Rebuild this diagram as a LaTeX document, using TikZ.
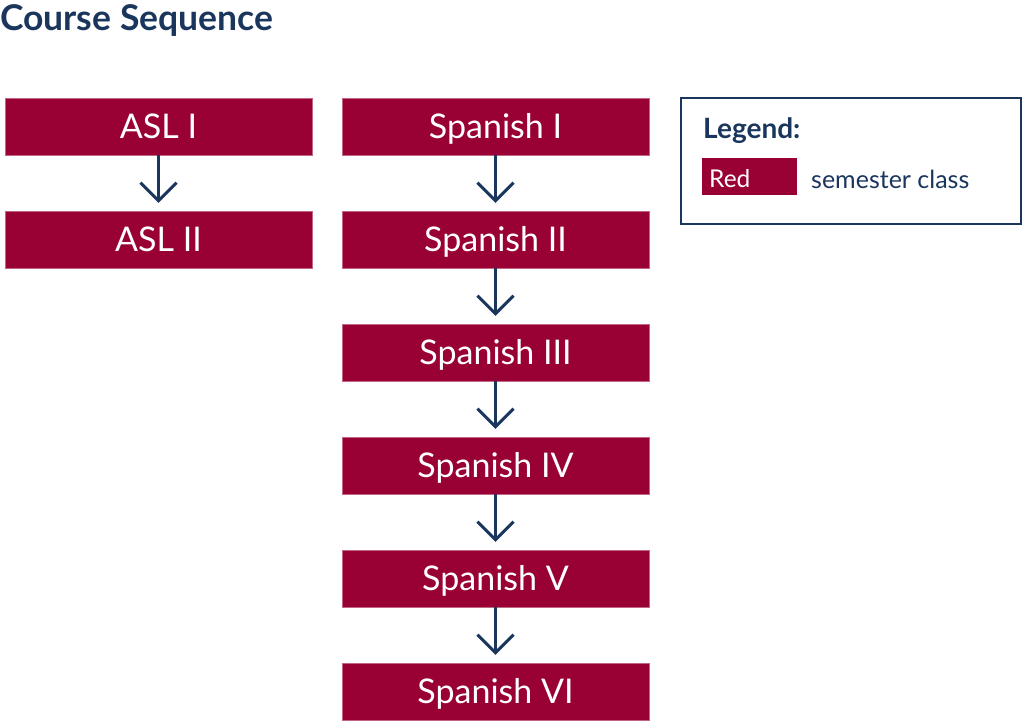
\documentclass[tikz,border=0pt]{standalone}
\usepackage{fontspec}
\setmainfont{Lato}
\usetikzlibrary{arrows.meta}
\definecolor{crs}{RGB}{153,0,51}
\definecolor{navy}{RGB}{27,54,93}
\tikzset{
  course/.style={rectangle, fill=crs, draw=crs!60, line width=0.4pt, minimum width=307pt, minimum height=57pt, inner sep=0pt, text=white, font=\fontsize{34}{34}\selectfont, text height=24pt, text depth=0pt},
  arr/.style={draw=navy, line width=3pt, -{Straight Barb[length=18pt,width=36pt,line width=3pt]}, shorten >=8pt},
}
\begin{document}
\begin{tikzpicture}[x=1pt,y=-1pt]
\useasboundingbox (0,0) rectangle (1024,720);
\node[anchor=base west, text=navy, font=\bfseries\fontsize{35.5}{35.5}\selectfont, inner sep=0pt] (title) at (0,30) {Course Sequence};
\node[course] (asl1) at (158.5,126.5) {ASL I};
\node[course] (asl2) at (158.5,239.5) {ASL II};
\node[course] (sp1) at (495.5,126.5) {Spanish I};
\node[course] (sp2) at (495.5,239.5) {Spanish II};
\node[course] (sp3) at (495.5,352.5) {Spanish III};
\node[course] (sp4) at (495.5,465.5) {Spanish IV};
\node[course] (sp5) at (495.5,578.5) {Spanish V};
\node[course] (sp6) at (495.5,691.5) {Spanish VI};
\draw[arr] (asl1.south) -- (asl2.north);
\draw[arr] (sp1.south) -- (sp2.north);
\draw[arr] (sp2.south) -- (sp3.north);
\draw[arr] (sp3.south) -- (sp4.north);
\draw[arr] (sp4.south) -- (sp5.north);
\draw[arr] (sp5.south) -- (sp6.north);
\node[draw=navy, line width=2pt, minimum width=340pt, minimum height=126pt, inner sep=0pt] (legend) at (851,161) {};
\node[anchor=base west, text=navy, font=\bfseries\fontsize{28}{28}\selectfont, inner sep=0pt] (legtitle) at (703,138) {Legend:};
\node[rectangle, fill=crs, minimum width=95pt, minimum height=37pt, inner sep=0pt] (legred) at (749.5,176.5) {};
\node[anchor=base west, text=white, font=\fontsize{24.5}{24.5}\selectfont, inner sep=0pt] (legredtxt) at (709,187) {Red};
\node[anchor=base west, text=navy, font=\fontsize{25}{25}\selectfont, inner sep=0pt] (legtxt) at (811,188) {semester class};
\end{tikzpicture}
\end{document}
